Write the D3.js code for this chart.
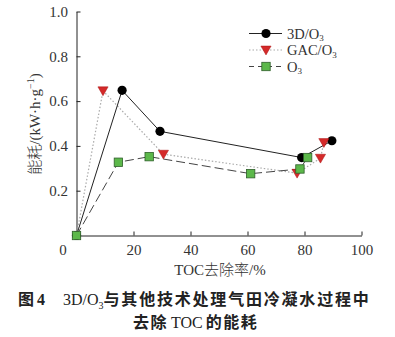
<!DOCTYPE html>
<html><head><meta charset="utf-8">
<script src="https://cdn.jsdelivr.net/npm/d3@7"></script>
<style>
body{margin:0;background:#fff;}
svg{display:block;}
</style></head>
<body>
<svg id="c" width="395" height="337"></svg>
<script>
const xTicks = [20, 40, 60, 80, 100];
const yTicks = [0.2, 0.4, 0.6, 0.8, 1.0];
const x3D = [0, 16.0, 29.3, 79.0, 89.6];
const y3D = [0, 0.648, 0.465, 0.348, 0.423];
const xGAC = [0, 9.3, 30.5, 77.4, 85.6, 86.8];
const yGAC = [0, 0.646, 0.363, 0.278, 0.345, 0.415];
const xO3 = [0, 14.7, 25.5, 61.1, 78.4, 81.1];
const yO3 = [0, 0.327, 0.352, 0.276, 0.297, 0.348];
const seriesNames = ["3D/O", "GAC/O", "O"];

const svg = d3.select("#c");
const x = d3.scaleLinear().domain([0, 100]).range([76.5, 361.5]);
const y = d3.scaleLinear().domain([0, 1]).range([235.5, 11.5]);
const serif = "'Liberation Serif','Times New Roman',serif";
const txt = "#333";

// axes (inward ticks)
const gx = svg.append("g").attr("transform", "translate(0,235.5)")
  .call(d3.axisBottom(x).tickValues(xTicks).tickSize(-4).tickSizeOuter(0).tickPadding(9));
const gy = svg.append("g").attr("transform", "translate(76.5,0)")
  .call(d3.axisLeft(y).tickValues(yTicks).tickFormat(d3.format(".1f")).tickSize(-4).tickSizeOuter(0).tickPadding(8.5));
[gx, gy].forEach(g => {
  g.selectAll("path,line").attr("stroke", "#222").attr("stroke-width", 1);
  g.selectAll("text").attr("font-family", serif).attr("font-size", 15).attr("fill", txt);
});
svg.append("text").attr("x", 63).attr("y", 255).attr("text-anchor", "middle")
  .attr("font-family", serif).attr("font-size", 15).attr("fill", txt).text("0");

// axis titles
svg.append("text").attr("x", 220).attr("y", 275).attr("text-anchor", "middle")
  .attr("font-family", serif).attr("font-size", 15).attr("fill", txt)
  .html("TOC<tspan font-family=\"'Noto Sans CJK SC'\" font-weight=\"300\">去除率</tspan>/%");
const yl = svg.append("text").attr("transform", "translate(40,124) rotate(-90)")
  .attr("text-anchor", "middle").attr("font-family", serif).attr("font-size", 15).attr("fill", txt);
yl.append("tspan").attr("font-family", "'Noto Sans CJK SC'").attr("font-weight", 300).text("能耗");
yl.append("tspan").text("/(kW·h·g");
yl.append("tspan").attr("font-size", 10).attr("dy", -6).text("−1");
yl.append("tspan").attr("dy", 6).text(")");

// lines
const mk = (xs, ys) => xs.map((v, i) => [v, ys[i]]);
const d3D = mk(x3D, y3D), dGAC = mk(xGAC, yGAC), dO3 = mk(xO3, yO3);
const line = d3.line().x(d => x(d[0])).y(d => y(d[1]));
svg.append("path").attr("d", line(dGAC)).attr("fill", "none").attr("stroke", "#aaa").attr("stroke-width", 1.2).attr("stroke-dasharray", "1.5,2");
svg.append("path").attr("d", line(dO3)).attr("fill", "none").attr("stroke", "#444").attr("stroke-width", 1).attr("stroke-dasharray", "9,4");
svg.append("path").attr("d", line(d3D)).attr("fill", "none").attr("stroke", "#222").attr("stroke-width", 1);

// markers
const tri = d3.symbol().type(d3.symbolTriangle).size(45);
function drawCirc(g, cx, cy) { g.append("circle").attr("cx", cx).attr("cy", cy).attr("r", 4.6).attr("fill", "#000"); }
function drawTri(g, cx, cy) { g.append("path").attr("d", tri()).attr("transform", `translate(${cx},${cy}) rotate(180)`).attr("fill", "#d42a2a").attr("stroke", "#a11").attr("stroke-width", 0.5); }
function drawSq(g, cx, cy) { g.append("rect").attr("x", cx - 4.2).attr("y", cy - 4.2).attr("width", 8.4).attr("height", 8.4).attr("fill", "#5cb84a").attr("stroke", "#2f5f2a").attr("stroke-width", 0.8); }
const gm = svg.append("g");
d3D.forEach(d => drawCirc(gm, x(d[0]), y(d[1])));
dGAC.slice(1).forEach(d => drawTri(gm, x(d[0]), y(d[1]) - 1));
dO3.forEach(d => drawSq(gm, x(d[0]), y(d[1])));

// legend
const lg = svg.append("g");
const rows = [33.5, 50, 66.5];
lg.append("line").attr("x1", 249).attr("x2", 282).attr("y1", rows[0]).attr("y2", rows[0]).attr("stroke", "#222");
drawCirc(lg, 266, rows[0]);
lg.append("line").attr("x1", 249).attr("x2", 282).attr("y1", rows[1]).attr("y2", rows[1]).attr("stroke", "#aaa").attr("stroke-width", 1.2).attr("stroke-dasharray", "1.5,2");
drawTri(lg, 266, rows[1] - 1);
lg.append("line").attr("x1", 249).attr("x2", 282).attr("y1", rows[2]).attr("y2", rows[2]).attr("stroke", "#444").attr("stroke-dasharray", "5,4");
drawSq(lg, 266, rows[2]);
seriesNames.forEach((n, i) => {
  const t = lg.append("text").attr("x", 287).attr("y", rows[i] + 5).attr("font-family", serif).attr("font-size", 14.5).attr("fill", txt);
  t.append("tspan").text(n);
  t.append("tspan").attr("font-size", 9).attr("dy", 2.5).text("3");
});

// caption
const cap = "'Noto Sans CJK SC',sans-serif";
const c1 = svg.append("text").attr("x", 18).attr("y", 305).attr("font-size", 16).attr("fill", "#222");
c1.append("tspan").attr("font-family", cap).attr("font-weight", 700).text("图");
c1.append("tspan").attr("font-family", serif).attr("font-weight", 700).attr("dx", 3).text("4");
c1.append("tspan").attr("x", 63).attr("font-family", serif).text("3D/O");
c1.append("tspan").attr("font-family", serif).attr("font-size", 10).attr("dy", 4).text("3");
c1.append("tspan").attr("dy", -4).attr("font-family", cap).attr("font-weight", 700).attr("letter-spacing", 1.8).text("与其他技术处理气田冷凝水过程中");
const c2 = svg.append("text").attr("x", 133).attr("y", 328).attr("font-size", 16).attr("fill", "#222");
c2.append("tspan").attr("font-family", cap).attr("font-weight", 700).attr("letter-spacing", 1.5).text("去除");
c2.append("tspan").attr("font-family", serif).attr("dx", 3).text("TOC");
c2.append("tspan").attr("font-family", cap).attr("font-weight", 700).attr("dx", 3).attr("letter-spacing", 1.5).text("的能耗");
</script>
</body></html>
